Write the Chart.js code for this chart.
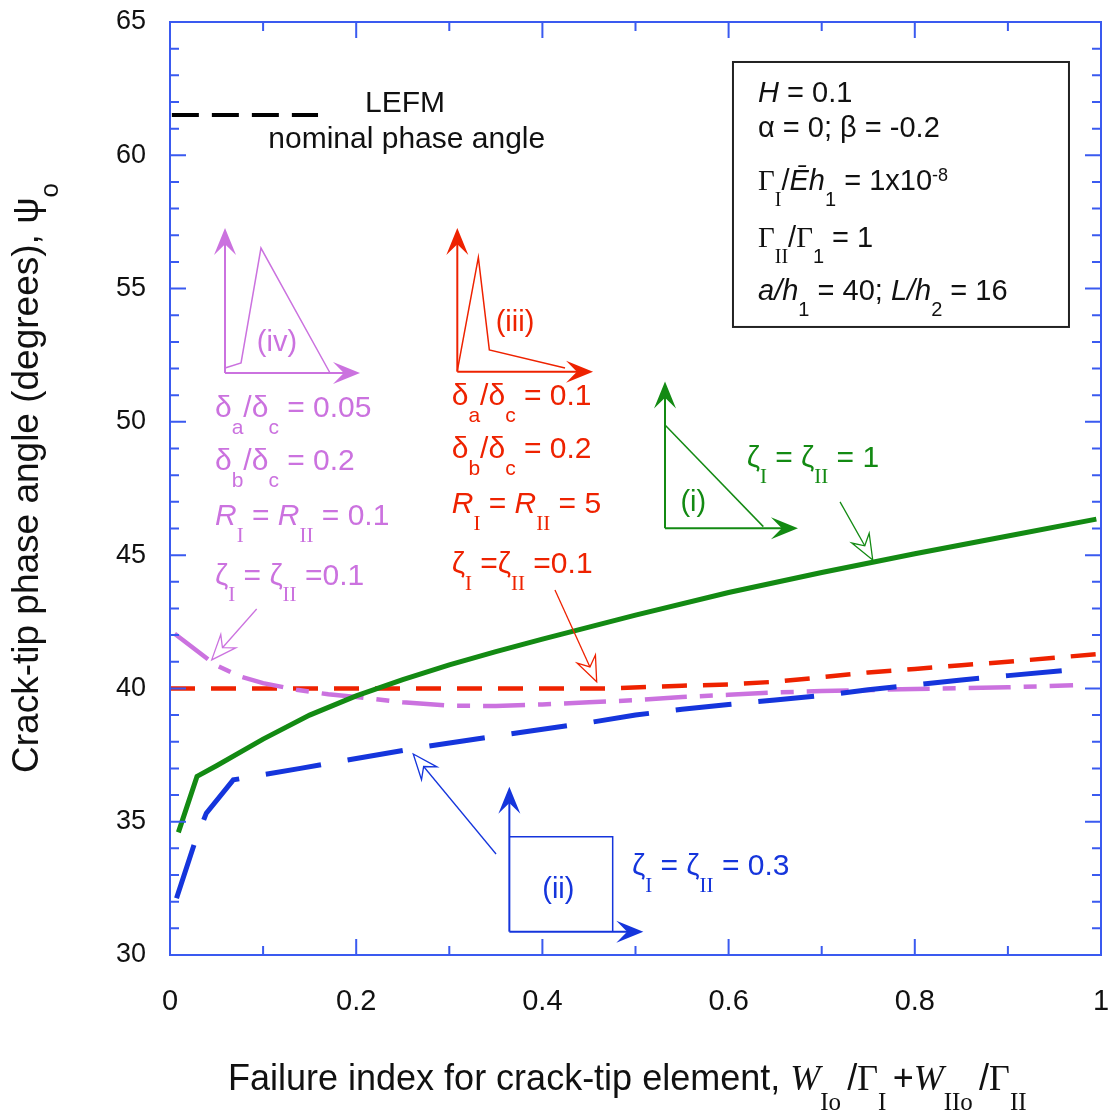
<!DOCTYPE html>
<html>
<head>
<meta charset="utf-8">
<script src="https://cdn.jsdelivr.net/npm/chart.js@4.4.1/dist/chart.umd.min.js"></script>
<style>
  html, body { margin: 0; padding: 0; background: #fff; }
  #wrap { width: 1112px; height: 1118px; }
</style>
</head>
<body>
<div id="wrap"><canvas id="phaseChart" width="1112" height="1118"></canvas></div>
<script>
// values: x = failure index, y = phase angle (deg)
var zeta1X = [0.009, 0.029, 0.05, 0.1, 0.15, 0.2, 0.25, 0.3, 0.35, 0.4, 0.45, 0.5, 0.6, 0.7, 0.8, 0.9, 0.995];
var zeta1Y = [34.6, 36.7, 37.1, 38.1, 39.0, 39.72, 40.33, 40.88, 41.38, 41.85, 42.3, 42.75, 43.6, 44.35, 45.05, 45.72, 46.35];

var zeta03X = [0.007, 0.027, 0.039, 0.068, 0.093, 0.14, 0.182, 0.271, 0.357, 0.447, 0.5, 0.55, 0.6, 0.65, 0.7, 0.75, 0.8, 0.85, 0.9, 0.975];
var zeta03Y = [32.13, 34.26, 35.32, 36.57, 36.72, 37.0, 37.26, 37.8, 38.25, 38.7, 39.0, 39.22, 39.4, 39.57, 39.73, 39.95, 40.13, 40.32, 40.48, 40.72];

var peakedX = [0, 0.1, 0.2, 0.3, 0.4, 0.47, 0.55, 0.6, 0.65, 0.7, 0.75, 0.8, 0.85, 0.9, 0.95, 1.0];
var peakedY = [40, 40, 40, 40, 40, 40, 40.1, 40.15, 40.25, 40.42, 40.6, 40.73, 40.87, 41.0, 41.15, 41.3];

var softX = [0.005, 0.048, 0.075, 0.1, 0.136, 0.17, 0.2, 0.25, 0.3, 0.35, 0.4, 0.45, 0.5, 0.55, 0.6, 0.65, 0.7, 0.8, 0.9, 0.97];
var softY = [42.05, 40.9, 40.45, 40.2, 39.95, 39.78, 39.68, 39.48, 39.35, 39.34, 39.4, 39.48, 39.56, 39.68, 39.76, 39.85, 39.9, 39.98, 40.04, 40.12];

var lefmX = [0.002, 0.159];
var lefmY = [61.51, 61.51];

var xRange = [0, 1];
var yRange = [30, 65];

var SANS = '"Liberation Sans", Arial, Helvetica, sans-serif';
var SERIF = '"Liberation Serif", "Times New Roman", serif';
var AXIS = '#3a5af0';
var GREEN = '#138a13';
var BLUE = '#1535dc';
var RED = '#ee2200';
var PURPLE = '#cb72df';

function toPoints(xs, ys) {
    return xs.map(function(x, i) { return { x: x, y: ys[i] }; });
}

// draws text made of pieces: n normal, i italic, g serif, r roman subscript,
// s sans subscript, u superscript, w script-ish capital
function richText(ctx, x, y, parts, size, color, measureOnly) {
    ctx.save();
    ctx.fillStyle = color;
    ctx.textAlign = 'left';
    ctx.textBaseline = 'alphabetic';
    var cx = x;
    parts.forEach(function(p) {
        var t = p[0], k = p[1] || 'n', dy = 0, font;
        var small = Math.round(size * 0.7);
        if (k === 'n') font = size + 'px ' + SANS;
        else if (k === 'i') font = 'italic ' + size + 'px ' + SANS;
        else if (k === 'g') font = size + 'px ' + SERIF;
        else if (k === 'w') font = 'italic ' + size + 'px ' + SERIF;
        else if (k === 'r') { font = small + 'px ' + SERIF; dy = size * 0.55; }
        else if (k === 's') { font = small + 'px ' + SANS; dy = size * 0.55; }
        else if (k === 'u') { font = Math.round(size * 0.62) + 'px ' + SANS; dy = -size * 0.3; }
        ctx.font = font;
        if (!measureOnly) ctx.fillText(t, cx, y + dy);
        cx += ctx.measureText(t).width;
    });
    ctx.restore();
    return cx - x;
}

function barbArrow(ctx, x1, y1, x2, y2, color) {
    var ang = Math.atan2(y2 - y1, x2 - x1), L = 27, W = 11;
    var c = Math.cos(ang), s = Math.sin(ang);
    ctx.save();
    ctx.strokeStyle = color; ctx.fillStyle = color; ctx.lineWidth = 2;
    ctx.beginPath(); ctx.moveTo(x1, y1); ctx.lineTo(x2 - c * 10, y2 - s * 10); ctx.stroke();
    ctx.beginPath();
    ctx.moveTo(x2, y2);
    ctx.lineTo(x2 - c * L - s * W, y2 - s * L + c * W);
    ctx.lineTo(x2 - c * L * 0.6, y2 - s * L * 0.6);
    ctx.lineTo(x2 - c * L + s * W, y2 - s * L - c * W);
    ctx.closePath(); ctx.fill();
    ctx.restore();
}

function openArrow(ctx, x1, y1, x2, y2, color) {
    var ang = Math.atan2(y2 - y1, x2 - x1), L = 25, W = 10;
    var c = Math.cos(ang), s = Math.sin(ang);
    ctx.save();
    ctx.strokeStyle = color; ctx.lineWidth = 1.3;
    ctx.beginPath(); ctx.moveTo(x1, y1); ctx.lineTo(x2 - c * L * 0.65, y2 - s * L * 0.65); ctx.stroke();
    ctx.beginPath();
    ctx.moveTo(x2, y2);
    ctx.lineTo(x2 - c * L - s * W, y2 - s * L + c * W);
    ctx.lineTo(x2 - c * L * 0.65, y2 - s * L * 0.65);
    ctx.lineTo(x2 - c * L + s * W, y2 - s * L - c * W);
    ctx.closePath(); ctx.stroke();
    ctx.restore();
}

function polyline(ctx, pts, color, lw) {
    ctx.save();
    ctx.strokeStyle = color; ctx.lineWidth = lw;
    ctx.beginPath();
    pts.forEach(function(p, i) { if (i === 0) ctx.moveTo(p[0], p[1]); else ctx.lineTo(p[0], p[1]); });
    ctx.stroke();
    ctx.restore();
}

function centerText(ctx, text, x, y, size, color) {
    ctx.save();
    ctx.fillStyle = color;
    ctx.font = size + 'px ' + SANS;
    ctx.textAlign = 'center';
    ctx.textBaseline = 'middle';
    ctx.fillText(text, x, y);
    ctx.restore();
}

var decorations = {
    id: 'decorations',
    afterDraw: function(chart) {
        var ctx = chart.ctx, a = chart.chartArea;
        var sx = chart.scales.x, sy = chart.scales.y;
        var X = function(v) { return sx.getPixelForValue(v); };
        var Y = function(v) { return sy.getPixelForValue(v); };
        var P = function(x, y) { return [X(x), Y(y)]; };

        // frame and inward ticks on all four sides
        ctx.save();
        ctx.strokeStyle = AXIS;
        ctx.lineWidth = 2;
        ctx.strokeRect(a.left, a.top, a.right - a.left, a.bottom - a.top);
        ctx.beginPath();
        for (var i = 0; i <= 10; i++) {
            var px = X(i / 10), len = i % 2 === 0 ? 16 : 9;
            ctx.moveTo(px, a.bottom); ctx.lineTo(px, a.bottom - len);
            ctx.moveTo(px, a.top); ctx.lineTo(px, a.top + len);
        }
        for (var v = yRange[0]; v <= yRange[1]; v++) {
            var py = Y(v), ln = v % 5 === 0 ? 16 : 9;
            ctx.moveTo(a.left, py); ctx.lineTo(a.left + ln, py);
            ctx.moveTo(a.right, py); ctx.lineTo(a.right - ln, py);
        }
        ctx.stroke();
        ctx.restore();

        // axis titles
        richText(ctx, 228, 1090, [['Failure index for crack-tip element, '], ['W', 'w'], ['Io ', 'r'],
            ['/'], ['\u0393', 'g'], ['I ', 'r'], ['+'], ['W', 'w'], ['IIo ', 'r'], ['/'], ['\u0393', 'g'], ['II', 'r']], 36, '#111');
        var yTitle = [['Crack-tip phase angle (degrees), \u03c8'], ['o', 's']];
        var w = richText(ctx, 0, 0, yTitle, 37, '#111', true);
        ctx.save();
        ctx.translate(38, 478);
        ctx.rotate(-Math.PI / 2);
        richText(ctx, -w / 2, 0, yTitle, 37, '#111');
        ctx.restore();

        // LEFM legend text
        richText(ctx, X(0.2095), Y(61.635), [['LEFM']], 30, '#111');
        richText(ctx, X(0.1056), Y(60.26), [['nominal phase angle']], 30, '#111');

        // parameter box
        ctx.save();
        ctx.strokeStyle = '#222'; ctx.lineWidth = 2;
        ctx.strokeRect(X(0.6047), Y(63.5), X(0.9656) - X(0.6047), Y(53.56) - Y(63.5));
        ctx.restore();
        var bx = X(0.6316);
        richText(ctx, bx, Y(62.0), [['H', 'i'], [' = 0.1']], 29, '#111');
        richText(ctx, bx, Y(60.686), [['\u03b1 = 0; \u03b2 = -0.2']], 29, '#111');
        richText(ctx, bx, Y(58.70), [['\u0393', 'g'], ['I', 'r'], ['/'], ['\u0112', 'i'], ['h', 'i'], ['1', 's'],
            [' = 1x10'], ['-8', 'u']], 29, '#111');
        richText(ctx, bx, Y(56.56), [['\u0393', 'g'], ['II', 'r'], ['/'], ['\u0393', 'g'], ['1', 's'], [' = 1']], 29, '#111');
        richText(ctx, bx, Y(54.57), [['a/h', 'i'], ['1', 's'], [' = 40; '], ['L/h', 'i'], ['2', 's'], [' = 16']], 29, '#111');

        // (iv) soft traction law
        barbArrow(ctx, X(0.0591), Y(51.833), X(0.0591), Y(57.272), PURPLE);
        barbArrow(ctx, X(0.0591), Y(51.833), X(0.2041), Y(51.833), PURPLE);
        polyline(ctx, [P(0.0591, 52.02), P(0.0763, 52.21), P(0.0977, 56.52), P(0.1719, 51.833)], PURPLE, 1.5);
        centerText(ctx, '(iv)', X(0.1149), Y(52.958), 29, PURPLE);
        var lx = X(0.0483);
        richText(ctx, lx, Y(50.18), [['\u03b4'], ['a', 's'], ['/\u03b4'], ['c', 's'], [' = 0.05']], 30, PURPLE);
        richText(ctx, lx, Y(48.19), [['\u03b4'], ['b', 's'], ['/\u03b4'], ['c', 's'], [' = 0.2']], 30, PURPLE);
        richText(ctx, lx, Y(46.13), [['R', 'i'], ['I', 'r'], [' = '], ['R', 'i'], ['II', 'r'], [' = 0.1']], 30, PURPLE);
        richText(ctx, lx, Y(43.88), [['\u03b6'], ['I', 'r'], [' = \u03b6'], ['II', 'r'], [' =0.1']], 30, PURPLE);
        openArrow(ctx, X(0.0931), Y(42.98), X(0.0448), Y(41.07), PURPLE);

        // (iii) peaked traction law
        barbArrow(ctx, X(0.3086), Y(51.88), X(0.3086), Y(57.27), RED);
        barbArrow(ctx, X(0.3086), Y(51.88), X(0.4544), Y(51.88), RED);
        polyline(ctx, [P(0.3086, 51.91), P(0.3312, 56.17), P(0.343, 52.70), P(0.4243, 52.02)], RED, 1.5);
        centerText(ctx, '(iii)', X(0.3706), Y(53.71), 29, RED);
        var rx = X(0.3026);
        richText(ctx, rx, Y(50.63), [['\u03b4'], ['a', 's'], ['/\u03b4'], ['c', 's'], [' = 0.1']], 30, RED);
        richText(ctx, rx, Y(48.63), [['\u03b4'], ['b', 's'], ['/\u03b4'], ['c', 's'], [' = 0.2']], 30, RED);
        richText(ctx, rx, Y(46.58), [['R', 'i'], ['I', 'r'], [' = '], ['R', 'i'], ['II', 'r'], [' = 5']], 30, RED);
        richText(ctx, rx, Y(44.33), [['\u03b6'], ['I', 'r'], [' =\u03b6'], ['II', 'r'], [' =0.1']], 30, RED);
        openArrow(ctx, X(0.4135), Y(43.69), X(0.4583), Y(40.25), RED);

        // (i) triangular law
        barbArrow(ctx, X(0.5317), Y(46.01), X(0.5317), Y(51.51), GREEN);
        barbArrow(ctx, X(0.5317), Y(46.01), X(0.6745), Y(46.01), GREEN);
        polyline(ctx, [P(0.5317, 49.88), P(0.6373, 46.07)], GREEN, 1.5);
        centerText(ctx, '(i)', X(0.5621), Y(46.94), 29, GREEN);
        richText(ctx, X(0.6194), Y(48.32), [['\u03b6'], ['I', 'r'], [' = \u03b6'], ['II', 'r'], [' = 1']], 30, GREEN);
        openArrow(ctx, X(0.7197), Y(47.0), X(0.7548), Y(44.82), GREEN);

        // (ii) rectangular law
        barbArrow(ctx, X(0.3645), Y(30.875), X(0.3645), Y(36.31), BLUE);
        barbArrow(ctx, X(0.3645), Y(30.875), X(0.5084), Y(30.875), BLUE);
        polyline(ctx, [P(0.3645, 34.44), P(0.4755, 34.44), P(0.4755, 30.875)], BLUE, 1.5);
        centerText(ctx, '(ii)', X(0.4171), Y(32.44), 29, BLUE);
        richText(ctx, X(0.4962), Y(33.0), [['\u03b6'], ['I', 'r'], [' = \u03b6'], ['II', 'r'], [' = 0.3']], 30, BLUE);
        openArrow(ctx, X(0.3502), Y(33.79), X(0.2613), Y(37.54), BLUE);
    }
};

var ctx = document.getElementById('phaseChart').getContext('2d');
var phaseChart = new Chart(ctx, {
    type: 'line',
    data: {
        datasets: [{
            label: 'zeta = 1',
            data: toPoints(zeta1X, zeta1Y),
            borderColor: GREEN,
            borderWidth: 5
        }, {
            label: 'zeta = 0.3',
            data: toPoints(zeta03X, zeta03Y),
            borderColor: BLUE,
            borderWidth: 5,
            borderDash: [56, 27]
        }, {
            label: 'soft, zeta = 0.1',
            data: toPoints(softX, softY),
            borderColor: PURPLE,
            borderWidth: 4.5,
            borderDash: [42, 13, 13, 13]
        }, {
            label: 'peaked, zeta = 0.1',
            data: toPoints(peakedX, peakedY),
            borderColor: RED,
            borderWidth: 4.5,
            borderDash: [25, 16]
        }, {
            label: 'LEFM',
            data: toPoints(lefmX, lefmY),
            borderColor: '#000',
            borderWidth: 4,
            borderDash: [27, 13]
        }]
    },
    options: {
        responsive: false,
        animation: false,
        devicePixelRatio: 1,
        layout: { padding: { top: 22, right: 11, left: 0, bottom: 0 } },
        elements: {
            point: { radius: 0 },
            line: { tension: 0, fill: false }
        },
        plugins: {
            legend: { display: false },
            tooltip: { enabled: false }
        },
        scales: {
            x: {
                type: 'linear',
                min: xRange[0],
                max: xRange[1],
                grid: { display: false, drawTicks: false },
                border: { display: false },
                ticks: {
                    stepSize: 0.2,
                    padding: 30,
                    color: '#111',
                    font: { family: SANS, size: 29 },
                    callback: function(v) { return String(Math.round(v * 10) / 10); }
                },
                afterFit: function(scale) {
                    scale.height = 163;
                    scale.paddingLeft = 0;
                    scale.paddingRight = 0;
                }
            },
            y: {
                min: yRange[0],
                max: yRange[1],
                grid: { display: false, drawTicks: false },
                border: { display: false },
                ticks: {
                    stepSize: 5,
                    padding: 24,
                    color: '#111',
                    font: { family: SANS, size: 27 }
                },
                afterFit: function(scale) {
                    scale.width = 170;
                    scale.paddingTop = 0;
                    scale.paddingBottom = 0;
                }
            }
        }
    },
    plugins: [decorations]
});
</script>
</body>
</html>
